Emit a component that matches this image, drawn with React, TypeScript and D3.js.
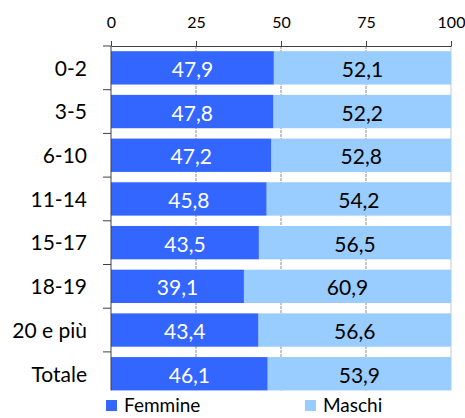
import React, { useEffect, useRef } from 'react';
import * as d3 from 'd3';

// Classi di età e quote percentuali per sesso
const categories = ['0-2', '3-5', '6-10', '11-14', '15-17', '18-19', '20 e più', 'Totale'];
const femmine = [47.9, 47.8, 47.2, 45.8, 43.5, 39.1, 43.4, 46.1];
const maschi = [52.1, 52.2, 52.8, 54.2, 56.5, 60.9, 56.6, 53.9];
const xTicks = [0, 25, 50, 75, 100];
const seriesNames = ['Femmine', 'Maschi'];
const seriesColors = ['#3366ff', '#99ccff'];
const labelColors = ['#ffffff', '#000000'];

const width = 465;
const height = 418;
const font = 'Lato, "Liberation Sans", sans-serif';

const App = () => {
  const chartRef = useRef<SVGSVGElement>(null);

  useEffect(() => {
    const svg = d3.select(chartRef.current);
    svg.selectAll('*').remove();

    const margin = { top: 46, right: 14, bottom: 23, left: 111 };

    const rows = categories.map((c, i) => ({ cat: c, f: femmine[i], m: maschi[i] }));
    const stacked = d3.stack<any>().keys(['f', 'm'])(rows);

    const x = d3.scaleLinear().domain([0, 100]).range([margin.left, width - margin.right]);
    const y = d3
      .scaleBand()
      .domain(categories)
      .range([margin.top, margin.top + 8 * 43.7])
      .paddingInner(0.237)
      .paddingOuter(0.237 / 2);

    const bottom = y(categories[categories.length - 1])! + y.bandwidth();

    // griglia verticale
    svg
      .append('g')
      .selectAll('line')
      .data(xTicks.slice(1))
      .join('line')
      .attr('x1', (d) => x(d))
      .attr('x2', (d) => x(d))
      .attr('y1', margin.top)
      .attr('y2', bottom)
      .attr('stroke', (d) => (d === 100 ? '#c8c8c8' : '#8c8c8c'))
      .attr('stroke-dasharray', (d) => (d === 100 ? null : '3,1'))
      .attr('stroke-width', 1);

    // barre impilate
    const fmt = (v: number) => d3.format('.1f')(v).replace('.', ',');
    const groups = svg
      .append('g')
      .selectAll('g')
      .data(stacked)
      .join('g')
      .attr('fill', (_, i) => seriesColors[i]);

    groups
      .selectAll('rect')
      .data((d) => d)
      .join('rect')
      .attr('x', (d) => x(d[0]))
      .attr('y', (d) => y(d.data.cat)!)
      .attr('width', (d) => x(d[1]) - x(d[0]))
      .attr('height', y.bandwidth());

    groups.each(function (s, i) {
      d3.select(this)
        .selectAll('text')
        .data(s)
        .join('text')
        .attr('x', (d) => (x(d[0]) + x(d[1])) / 2)
        .attr('y', (d) => y(d.data.cat)! + y.bandwidth() / 2)
        .attr('dy', '0.43em')
        .attr('text-anchor', 'middle')
        .attr('fill', labelColors[i])
        .style('font-family', font)
        .style('font-size', '21px')
        .text((d) => fmt(d[1] - d[0]));
    });

    // asse X in alto
    const xAxis = svg
      .append('g')
      .attr('transform', `translate(0,${margin.top})`)
      .call(d3.axisTop(x).tickValues(xTicks).tickSize(5).tickSizeOuter(0).tickPadding(13));
    xAxis.selectAll('path, line').attr('stroke', '#404040');
    xAxis.selectAll('text').attr('fill', '#000').style('font-family', font).style('font-size', '16px');

    // asse Y con tacche tra le categorie
    const step = y.step();
    const yAxis = svg.append('g');
    yAxis
      .append('line')
      .attr('x1', margin.left)
      .attr('x2', margin.left)
      .attr('y1', margin.top)
      .attr('y2', bottom)
      .attr('stroke', '#404040');
    yAxis
      .selectAll('line.tick')
      .data(d3.range(categories.length))
      .join('line')
      .attr('class', 'tick')
      .attr('x1', margin.left - 8)
      .attr('x2', margin.left)
      .attr('y1', (i) => margin.top + i * step)
      .attr('y2', (i) => margin.top + i * step)
      .attr('stroke', '#404040');
    yAxis
      .selectAll('text')
      .data(categories)
      .join('text')
      .attr('x', 87)
      .attr('y', (d) => y(d)! + y.bandwidth() / 2)
      .attr('dy', '0.37em')
      .attr('text-anchor', 'end')
      .attr('fill', '#000')
      .style('font-family', font)
      .style('font-size', '21px')
      .text((d) => d);

    // legenda
    const legendX = [106, 305];
    const legend = svg
      .append('g')
      .selectAll('g')
      .data(seriesNames)
      .join('g')
      .attr('transform', (_, i) => `translate(${legendX[i]},400)`);
    legend
      .append('rect')
      .attr('width', 11)
      .attr('height', 11)
      .attr('fill', (_, i) => seriesColors[i]);
    legend
      .append('text')
      .attr('x', 18)
      .attr('y', 12)
      .attr('fill', '#000')
      .style('font-family', font)
      .style('font-size', '19px')
      .text((d) => d);
  }, []);

  return (
    <svg
      ref={chartRef}
      width={width}
      height={height}
      style={{ position: 'absolute', left: 0, top: 0, background: '#fff' }}
    />
  );
};

export default App;
